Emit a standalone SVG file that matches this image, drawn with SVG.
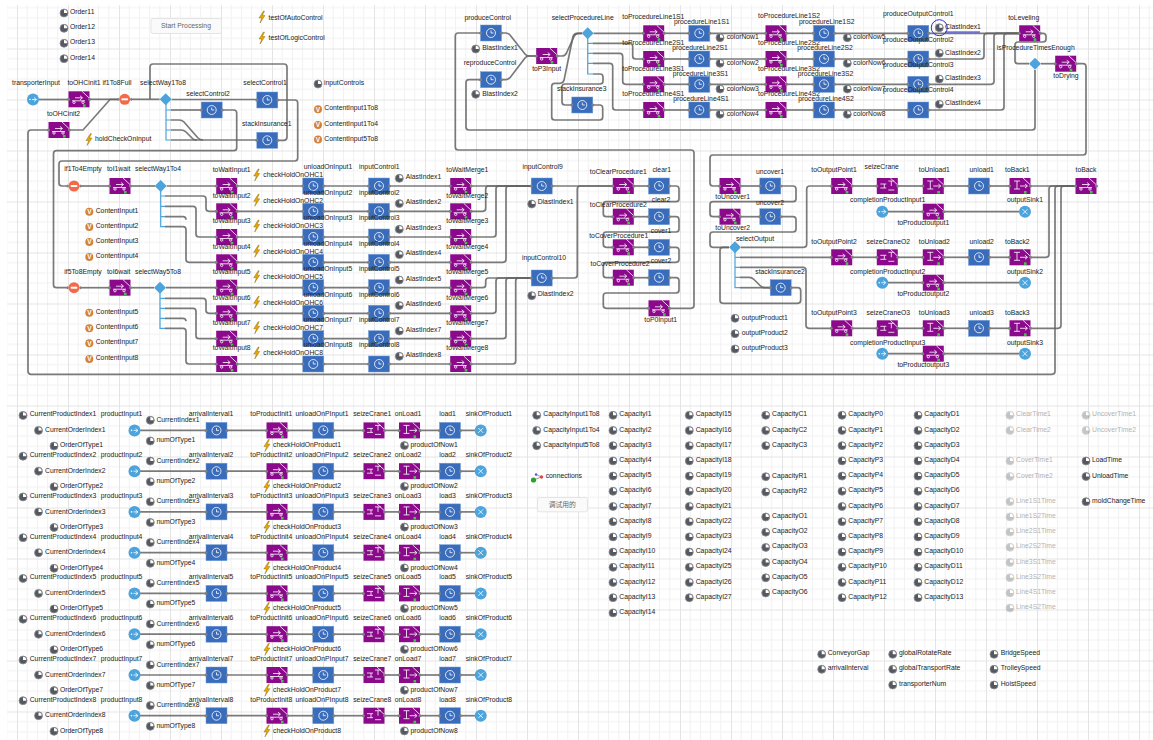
<svg xmlns="http://www.w3.org/2000/svg" width="1153" height="740" viewBox="0 0 1153 740">
<style>
text{font-family:"Liberation Sans","Noto Sans CJK SC",sans-serif;font-size:6.8px;fill:#222}
.t{text-anchor:middle}
.c path{fill:none;stroke:#636363;stroke-opacity:.85;stroke-width:1.7}
.c path.pb{stroke:#4da3dc;stroke-opacity:1;stroke-width:1.2}
.ic{fill:none;stroke:#fff;stroke-width:.8}
.g{opacity:.35}
.b{fill:#fafafa;stroke:#e4e4e4;stroke-width:1}
.bt{text-anchor:middle;fill:#666}
</style>
<defs>
<pattern id="grid" patternUnits="userSpaceOnUse" x="17" y="48.5" width="51" height="51">
<path d="M10.2 0V51M20.4 0V51M30.6 0V51M40.8 0V51M0 10.2H51M0 20.4H51M0 30.6H51M0 40.8H51" stroke="#f1f1f1" fill="none"/>
<path d="M.5 0V51M0 .5H51" stroke="#e4e4e4" fill="none"/>
</pattern>
<g id="ports"><circle cx="-10.5" r="1.5" fill="#808080"/><circle cx="10.5" r="1.5" fill="#808080"/></g>
<g id="P"><rect x="-10.5" y="-8" width="21" height="16" fill="#8b0a8c"/><path class="ic" d="M-7 1.5H6M-4 -1.5H3M1 -3.5L3.5 -1.5L1 .5M3 -8L10.5 -1"/><circle class="ic" cx="-5" cy="3" r="1.2"/><circle class="ic" cx="4" cy="3" r="1.2"/><rect x="4" y="5" width="2.6" height="2.6" fill="#49c24a"/><use href="#ports"/></g>
<g id="R"><rect x="-10.5" y="-8" width="21" height="16" fill="#8b0a8c"/><path class="ic" d="M-6 -5H0M-3 -5V3M-6 3H0M0 0H7M5 -2L7.5 0L5 2M3 -8L10.5 -1"/><rect x="4" y="5" width="2.6" height="2.6" fill="#49c24a"/><use href="#ports"/></g>
<g id="S"><rect x="-10.5" y="-8" width="21" height="16" fill="#8b0a8c"/><path class="ic" d="M-7 -2H-3V2H-7M-1 -2H-3M-1 2H-3M1 -5H7M4 -5V0M1 4H7M3 -8L10.5 -1"/><use href="#ports"/></g>
<g id="D"><rect x="-10.5" y="-8" width="21" height="16" fill="#3a6cbc" stroke="#6f9cd8" stroke-width=".5"/><circle class="ic" r="4.5" stroke-width="1"/><path class="ic" d="M0 -2.5V0H2.5"/><use href="#ports"/></g>
<g id="I"><circle r="6" fill="#4da3dc"/><path class="ic" d="M-1 0H3M1 -2L3.5 0L1 2"/><circle cx="-3" r=".8" fill="#fff"/></g>
<g id="O"><circle r="6" fill="#4da3dc"/><path class="ic" d="M-2.5 -2.5L2.5 2.5M2.5 -2.5L-2.5 2.5"/></g>
<g id="H"><circle r="5.5" fill="#f4694a"/><rect x="-3.2" y="-1" width="6.4" height="2" fill="#fff"/><use href="#ports" transform="scale(.62 1)"/></g>
<g id="W"><path d="M0 -6L6 0L0 6L-6 0Z" fill="#4da3dc"/></g>
<g id="A"><circle r="4" fill="#55595f" stroke="#8a8e94" stroke-width=".8"/><path d="M0 0V-3.2A3.2 3.2 0 0 1 3.2 0Z" fill="#fff"/></g>
<g id="V"><circle r="4" fill="#d4823a"/><text class="t" y="2.4" style="fill:#fff;font-size:6.5px;font-weight:bold">V</text></g>
<g id="E"><path d="M1.5 -6L-3 1H-.3L-2 6L3 -1.5H.4L2.5 -6Z" fill="#eba800" stroke="#7a5a00" stroke-width=".4"/></g>
<g id="m" class="c"><path d="M237.2 0H303"/><path d="M324 0H368.5"/><path d="M389.5 0H450"/></g>
<g id="pr" class="c"><path d="M664.2 0H688.8"/><path d="M709.8 0H765.5"/><path d="M786.5 0H813.5"/><path d="M834.5 0H907.8"/></g>
<g id="or" class="c"><path d="M852.2 0H876.8"/><path d="M897.8 0H922.8"/><path d="M943.8 0H968.5"/><path d="M989.5 0H1009.5"/></g>
<g id="cr" class="c"><path d="M888 0H922.8"/><path d="M943.8 0H1019"/></g>
<g id="rc" class="c"><path d="M140 0H206"/><path d="M227 0H267"/><path d="M287 0H313"/><path d="M334 0H364"/><path d="M384 0H399"/><path d="M420 0H440"/><path d="M460 0H475"/></g>
</defs>
<rect width="1153" height="740" fill="#fff"/>
<rect x="7" y="5" width="1146" height="735" fill="url(#grid)"/>
<g id="connectors" class="c">
<path d="M39 99.5H68.5"/>
<path d="M89.5 99.3H118"/>
<path d="M69.5 130H83L110 99.5H118"/>
<path d="M49 130H31Q28 130 28 133V371Q28 374.3 31 374.3H1052Q1055 374.3 1055 371.3V189Q1055 186 1058 186H1075.5"/>
<path d="M130.5 99.3H159.6"/>
<path d="M150 99V67Q150 64 153 64H284Q287 64 287 67V137Q287 140.3 284 140.3H277.5"/>
<path d="M171.7 99.5H256.8"/>
<path d="M171 110H201"/>
<path d="M171 120H179Q182 120 184 122L198 138Q200 140 203 140"/>
<path d="M171 130H181Q184 130 186 132L193 139Q194 140 197 140"/>
<path d="M171 140H257"/>
<path d="M278 100H295Q297.7 100 297.7 103V158Q297.7 161 294.7 161H62Q59 161 59 164V183Q59 186 62 186H68.5"/>
<path d="M222 110H233.7Q236.7 110 236.7 113V147.7Q236.7 150.7 233.7 150.7H56.5Q53.5 150.7 53.5 153.7V284.7Q53.5 287.7 56.5 287.7H68.5"/>
<path d="M79.5 186H109.5"/><path d="M130.5 186H155"/><path d="M166.7 186H216"/>
<path d="M79.5 287.7H109.5"/><path d="M130.5 287.7H154"/><path d="M166 287.7H216"/>
<path d="M165 196H203Q206 196 206 199V208.3Q206 211.3 209 211.3H216.2"/>
<path d="M165 206.3H193Q196 206.3 196 209.3V234Q196 237 199 237H216.2"/>
<path d="M165 216.7H183Q186 216.7 186 219.7"/>
<path d="M165 226.7H183Q186 226.7 186 229.7V259.3Q186 262.3 189 262.3H216.2"/>
<path d="M165 298.3H203Q206 298.3 206 301.3V310.3Q206 313.3 209 313.3H216.2"/>
<path d="M165 308.3H193Q196 308.3 196 311.3V335.7Q196 338.7 199 338.7H216.2"/>
<path d="M165 318.3H183Q186 318.3 186 321.3"/>
<path d="M165 328.3H183Q186 328.3 186 331.3V361Q186 364 189 364H216.2"/>
<use href="#m" y="186"/><use href="#m" y="211.3"/><use href="#m" y="237"/><use href="#m" y="262.3"/><use href="#m" y="287.7"/><use href="#m" y="313.3"/><use href="#m" y="338.7"/><use href="#m" y="364"/>
<path d="M471 186H531"/>
<path d="M471 211.3H482.7Q485.7 211.3 485.7 208.3V189Q485.7 186 488.7 186H531"/>
<path d="M471 237H493Q496 237 496 234V189Q496 186 499 186H531"/>
<path d="M471 262.3H503Q506 262.3 506 259.3V189Q506 186 509 186H531"/>
<path d="M471 287.7H482.7Q485.7 287.7 485.7 284.7V281Q485.7 278 488.7 278H531"/>
<path d="M471 313.3H493Q496 313.3 496 310.3V281Q496 278 499 278H531"/>
<path d="M471 338.7H503Q506 338.7 506 335.7V281Q506 278 509 278H531"/>
<path d="M471 364H512.7Q515.7 364 515.7 361V281Q515.7 278 518.7 278H531"/>
<path d="M552.2 186H613"/>
<path d="M552.2 278H574.3Q577.3 278 577.3 275V189Q577.3 186 580.3 186H613"/>
<path d="M634 186H648.5"/><path d="M634 216.7H648.5"/><path d="M634 247.3H648.5"/><path d="M634 277.7H648.5"/>
<path d="M669.5 186H676Q679 186 679 189V198.7Q679 201.7 676 201.7H606.3Q603.3 201.7 603.3 204.7V213.7Q603.3 216.7 606.3 216.7H613"/>
<path d="M669.5 216.7H676Q679 216.7 679 219.7V229Q679 232 676 232H606.3Q603.3 232 603.3 235V244.3Q603.3 247.3 606.3 247.3H613"/>
<path d="M669.5 247.3H676Q679 247.3 679 250.3V259.3Q679 262.3 676 262.3H606.3Q603.3 262.3 603.3 265.3V274.7Q603.3 277.7 606.3 277.7H613"/>
<path d="M669.5 277.7H676Q679 277.7 679 280.7V290Q679 293 676 293H606.3Q603.3 293 603.3 296V305.3Q603.3 308.3 606.3 308.3H648.5"/>
<path d="M669.5 308.3H691Q694 308.3 694 305.3V153Q694 150 691 150H458.3Q455.3 150 455.3 147V36Q455.3 33 458.3 33H480.5"/>
<path d="M501.5 33H506Q508 33 510 35L525 54Q526.5 56 529 56H536"/>
<path d="M501.5 79.7H506Q508 79.7 510 77.7L525 58Q526.5 56 529 56H536"/>
<path d="M557 56H562Q565 56 566.5 53L574 36.5Q575.5 33.3 578.5 33.3H582"/>
<path d="M593 105H599.7Q602.7 105 602.7 108V117Q602.7 120 599.7 120H554.7Q551.7 120 551.7 117V86.3Q551.7 83.3 554.7 83.3H560Q563 83.3 564 80.3L573 36.5Q574 33.3 577 33.3H582"/>
<path d="M593 74H600Q603 74 603 77V81Q603 84 600 84H565Q562 84 562 87V102Q562 105 565 105H572"/>
<path d="M593.5 33.3H643.2"/>
<path d="M593 43.3H629.7Q632.7 43.3 632.7 46.3V56Q632.7 59 635.7 59H643.2"/>
<path d="M593 53.3H619.7Q622.7 53.3 622.7 56.3V81.3Q622.7 84.3 625.7 84.3H643.2"/>
<path d="M593 63.3H609.7Q612.7 63.3 612.7 66.3V107Q612.7 110 615.7 110H643.2"/>
<use href="#pr" y="33.3"/><use href="#pr" y="59"/><use href="#pr" y="84.3"/><use href="#pr" y="110"/>
<path d="M928.8 33.3H1019.2"/>
<path d="M928.8 59H981Q984 59 984 56V36.3Q984 33.3 987 33.3H1019.2"/>
<path d="M928.8 84.3H991Q994 84.3 994 81.3V36.3Q994 33.3 997 33.3H1019.2"/>
<path d="M928.8 110H1001Q1004 110 1004 107V36.3Q1004 33.3 1007 33.3H1019.2"/>
<path d="M1040.2 33.3H1043Q1046 33.3 1046 36.3V39Q1046 42 1043 42H1018Q1015 42 1015 45V60.7Q1015 63.7 1018 63.7H1029"/>
<path d="M1041 63.7H1055.2"/>
<path d="M1076.2 63.7H1083Q1086 63.7 1086 66.7V152Q1086 155 1083 155H713Q710 155 710 158V183Q710 186 713 186H719.5"/>
<path d="M1035 70V127Q1035 130 1032 130H469Q466 130 466 127V82.7Q466 79.7 469 79.7H480.5"/>
<path d="M740.5 186H759.8"/>
<path d="M780.8 186H793Q796 186 796 189V198.7Q796 201.7 793 201.7H713Q710 201.7 710 204.7V213.7Q710 216.7 713 216.7H719.5"/>
<path d="M740.5 216.7H759.8"/>
<path d="M780.8 216.7H793Q796 216.7 796 219.7V229Q796 232 793 232H713Q710 232 710 235V244.3Q710 247.3 713 247.3H729"/>
<path d="M729 247.3H723Q720 247.3 720 250.3V300.3Q720 303.3 723 303.3H797.7Q800.7 303.3 800.7 300.3V290.7Q800.7 287.7 797.7 287.7H791.2"/>
<path d="M741 247.3H803.7Q806.7 247.3 806.7 244.3V189Q806.7 186 809.7 186H831.2"/>
<path d="M740 257.3H831.2"/>
<path d="M740 267.3H803Q806 267.3 806 270.3V325.3Q806 328.3 809 328.3H831.2"/>
<path d="M740 277.3H749Q752 277.3 754 279.5L760 285.5Q762 287.7 765 287.7H770"/>
<path d="M740 287.7H770"/>
<use href="#or" y="186"/><use href="#or" y="257.3"/><use href="#or" y="328.3"/>
<path d="M1030.5 186H1075.5"/>
<path d="M1030.5 257.3H1046Q1049 257.3 1049 254.3V189Q1049 186 1052 186H1075.5"/>
<path d="M1030.5 328.3H1058Q1061 328.3 1061 325.3V189Q1061 186 1064 186H1075.5"/>
<use href="#cr" y="211.7"/><use href="#cr" y="282.7"/><use href="#cr" y="353.7"/>
<use href="#rc" y="430.4"/><use href="#rc" y="471.2"/><use href="#rc" y="511.9"/><use href="#rc" y="552.7"/><use href="#rc" y="593.4"/><use href="#rc" y="634.2"/><use href="#rc" y="675"/><use href="#rc" y="715.7"/>
<path class="pb" d="M166 104V140H171M166 110H171M166 120H171M166 130H171"/>
<path class="pb" d="M160.7 191V226.7H165M160.7 196H165M160.7 206.3H165M160.7 216.7H165"/>
<path class="pb" d="M160 293V328.3H165M160 298.3H165M160 308.3H165M160 318.3H165"/>
<path class="pb" d="M587.7 38V74H593M587.7 43.3H593M587.7 53.3H593M587.7 63.3H593"/>
<path class="pb" d="M735 252V287.7H740M735 257.3H740M735 267.3H740M735 277.3H740"/>
</g>
<g id="Order11"><use href="#A" x="64" y="13"/><text x="70" y="14">Order11</text></g>
<g id="Order12"><use href="#A" x="64" y="28.3"/><text x="70" y="29.3">Order12</text></g>
<g id="Order13"><use href="#A" x="64" y="43.3"/><text x="70" y="44.3">Order13</text></g>
<g id="Order14"><use href="#A" x="64" y="58.7"/><text x="70" y="59.7">Order14</text></g>
<g id="StartProcessing"><rect class="b" x="151" y="18.5" width="70.5" height="15" rx="2"/><text class="bt" x="186" y="28.3">Start Processing</text></g>
<g id="testOfAutoControl"><use href="#E" x="262" y="17"/><text x="268.5" y="19.5">testOfAutoControl</text></g>
<g id="testOfLogicControl"><use href="#E" x="262" y="38"/><text x="268.5" y="40">testOfLogicControl</text></g>
<g id="transporterInput"><use href="#I" x="33" y="99.5"/><text class="t" x="36" y="85.3">transporterInput</text></g>
<g id="toOHCinit1"><use href="#P" x="79" y="99.3"/><text class="t" x="84" y="85.3">toOHCinit1</text></g>
<g id="toOHCinit2"><use href="#P" x="59" y="130"/><text class="t" x="63.5" y="116.3">toOHCinit2</text></g>
<g id="if1To8Full"><use href="#H" x="124.7" y="99.3"/><text class="t" x="117" y="85.3">if1To8Full</text></g>
<g id="selectWay1To8"><use href="#W" x="165.7" y="99.3"/><text class="t" x="163" y="85.3">selectWay1To8</text></g>
<g id="selectControl2"><use href="#D" x="211.7" y="110"/><text class="t" x="208" y="96.3">selectControl2</text></g>
<g id="selectControl1"><use href="#D" x="267.3" y="100"/><text class="t" x="265" y="85.3">selectControl1</text></g>
<g id="stackInsurance1"><use href="#D" x="267.3" y="140.3"/><text class="t" x="266.7" y="126.3">stackInsurance1</text></g>
<g id="holdCheckOnInput"><use href="#E" x="89" y="139.5"/><text x="95" y="141.3">holdCheckOnInput</text></g>
<g id="inputControls"><use href="#A" x="318" y="84"/><text x="324" y="85.3">inputControls</text></g>
<g id="ContentInput1To8"><use href="#V" x="318" y="109.3"/><text x="324.3" y="110.3">ContentInput1To8</text></g>
<g id="ContentInput1To4"><use href="#V" x="318" y="125"/><text x="324.3" y="126">ContentInput1To4</text></g>
<g id="ContentInput5To8"><use href="#V" x="318" y="139.5"/><text x="324.3" y="140.5">ContentInput5To8</text></g>
<g id="if1To4Empty"><use href="#H" x="74" y="186"/><text class="t" x="83" y="171.3">if1To4Empty</text></g>
<g id="toI1wait"><use href="#P" x="120" y="186"/><text class="t" x="118.7" y="171.3">toI1wait</text></g>
<g id="selectWay1To4"><use href="#W" x="160.7" y="186"/><text class="t" x="158" y="171.3">selectWay1To4</text></g>
<g id="if5To8Empty"><use href="#H" x="74" y="287.7"/><text class="t" x="83" y="273.6">if5To8Empty</text></g>
<g id="toI6wait"><use href="#P" x="120" y="287.7"/><text class="t" x="118.7" y="273.6">toI6wait</text></g>
<g id="selectWay5To8"><use href="#W" x="160" y="287.7"/><text class="t" x="158" y="273.6">selectWay5To8</text></g>
<g id="ContentInput1"><use href="#V" x="89.3" y="211.7"/><text x="95.7" y="212.7">ContentInput1</text></g>
<g id="ContentInput2"><use href="#V" x="89.3" y="227"/><text x="95.7" y="228">ContentInput2</text></g>
<g id="ContentInput3"><use href="#V" x="89.3" y="242"/><text x="95.7" y="243">ContentInput3</text></g>
<g id="ContentInput4"><use href="#V" x="89.3" y="257"/><text x="95.7" y="258">ContentInput4</text></g>
<g id="ContentInput5"><use href="#V" x="89.3" y="312.7"/><text x="95.7" y="313.7">ContentInput5</text></g>
<g id="ContentInput6"><use href="#V" x="89.3" y="328.3"/><text x="95.7" y="329.3">ContentInput6</text></g>
<g id="ContentInput7"><use href="#V" x="89.3" y="343.3"/><text x="95.7" y="344.3">ContentInput7</text></g>
<g id="ContentInput8"><use href="#V" x="89.3" y="359"/><text x="95.7" y="360">ContentInput8</text></g>
<g transform="translate(0 186)"><g id="toWaitInput1"><use href="#P" x="226.7"/><text class="t" x="231.7" y="-13.7">toWaitInput1</text></g><g id="checkHoldOnOHC1"><use href="#E" x="256.7" y="-11"/><text x="263.3" y="-8.7">checkHoldOnOHC1</text></g><g id="unloadOnInput1"><use href="#D" x="313.3"/><text class="t" x="328" y="-16.7">unloadOnInput1</text></g><g id="inputControl1"><use href="#D" x="379"/><text class="t" x="379.3" y="-16.7">inputControl1</text></g><g id="AlastIndex1"><use href="#A" x="399.3" y="-7.7"/><text x="405.7" y="-7">AlastIndex1</text></g><g id="toWaitMerge1"><use href="#P" x="460.7"/><text class="t" x="467.3" y="-13.7">toWaitMerge1</text></g></g>
<g transform="translate(0 211.3)"><g id="toWaitInput2"><use href="#P" x="226.7"/><text class="t" x="231.7" y="-13.7">toWaitInput2</text></g><g id="checkHoldOnOHC2"><use href="#E" x="256.7" y="-11"/><text x="263.3" y="-8.7">checkHoldOnOHC2</text></g><g id="unloadOnInput2"><use href="#D" x="313.3"/><text class="t" x="328" y="-16.7">unloadOnInput2</text></g><g id="inputControl2"><use href="#D" x="379"/><text class="t" x="379.3" y="-16.7">inputControl2</text></g><g id="AlastIndex2"><use href="#A" x="399.3" y="-7.7"/><text x="405.7" y="-7">AlastIndex2</text></g><g id="toWaitMerge2"><use href="#P" x="460.7"/><text class="t" x="467.3" y="-13.7">toWaitMerge2</text></g></g>
<g transform="translate(0 237)"><g id="toWaitInput3"><use href="#P" x="226.7"/><text class="t" x="231.7" y="-13.7">toWaitInput3</text></g><g id="checkHoldOnOHC3"><use href="#E" x="256.7" y="-11"/><text x="263.3" y="-8.7">checkHoldOnOHC3</text></g><g id="unloadOnInput3"><use href="#D" x="313.3"/><text class="t" x="328" y="-16.7">unloadOnInput3</text></g><g id="inputControl3"><use href="#D" x="379"/><text class="t" x="379.3" y="-16.7">inputControl3</text></g><g id="AlastIndex3"><use href="#A" x="399.3" y="-7.7"/><text x="405.7" y="-7">AlastIndex3</text></g><g id="toWaitMerge3"><use href="#P" x="460.7"/><text class="t" x="467.3" y="-13.7">toWaitMerge3</text></g></g>
<g transform="translate(0 262.3)"><g id="toWaitInput4"><use href="#P" x="226.7"/><text class="t" x="231.7" y="-13.7">toWaitInput4</text></g><g id="checkHoldOnOHC4"><use href="#E" x="256.7" y="-11"/><text x="263.3" y="-8.7">checkHoldOnOHC4</text></g><g id="unloadOnInput4"><use href="#D" x="313.3"/><text class="t" x="328" y="-16.7">unloadOnInput4</text></g><g id="inputControl4"><use href="#D" x="379"/><text class="t" x="379.3" y="-16.7">inputControl4</text></g><g id="AlastIndex4"><use href="#A" x="399.3" y="-7.7"/><text x="405.7" y="-7">AlastIndex4</text></g><g id="toWaitMerge4"><use href="#P" x="460.7"/><text class="t" x="467.3" y="-13.7">toWaitMerge4</text></g></g>
<g transform="translate(0 287.7)"><g id="toWaitInput5"><use href="#P" x="226.7"/><text class="t" x="231.7" y="-13.7">toWaitInput5</text></g><g id="checkHoldOnOHC5"><use href="#E" x="256.7" y="-11"/><text x="263.3" y="-8.7">checkHoldOnOHC5</text></g><g id="unloadOnInput5"><use href="#D" x="313.3"/><text class="t" x="328" y="-16.7">unloadOnInput5</text></g><g id="inputControl5"><use href="#D" x="379"/><text class="t" x="379.3" y="-16.7">inputControl5</text></g><g id="AlastIndex5"><use href="#A" x="399.3" y="-7.7"/><text x="405.7" y="-7">AlastIndex5</text></g><g id="toWaitMerge5"><use href="#P" x="460.7"/><text class="t" x="467.3" y="-13.7">toWaitMerge5</text></g></g>
<g transform="translate(0 313.3)"><g id="toWaitInput6"><use href="#P" x="226.7"/><text class="t" x="231.7" y="-13.7">toWaitInput6</text></g><g id="checkHoldOnOHC6"><use href="#E" x="256.7" y="-11"/><text x="263.3" y="-8.7">checkHoldOnOHC6</text></g><g id="unloadOnInput6"><use href="#D" x="313.3"/><text class="t" x="328" y="-16.7">unloadOnInput6</text></g><g id="inputControl6"><use href="#D" x="379"/><text class="t" x="379.3" y="-16.7">inputControl6</text></g><g id="AlastIndex6"><use href="#A" x="399.3" y="-7.7"/><text x="405.7" y="-7">AlastIndex6</text></g><g id="toWaitMerge6"><use href="#P" x="460.7"/><text class="t" x="467.3" y="-13.7">toWaitMerge6</text></g></g>
<g transform="translate(0 338.7)"><g id="toWaitInput7"><use href="#P" x="226.7"/><text class="t" x="231.7" y="-13.7">toWaitInput7</text></g><g id="checkHoldOnOHC7"><use href="#E" x="256.7" y="-11"/><text x="263.3" y="-8.7">checkHoldOnOHC7</text></g><g id="unloadOnInput7"><use href="#D" x="313.3"/><text class="t" x="328" y="-16.7">unloadOnInput7</text></g><g id="inputControl7"><use href="#D" x="379"/><text class="t" x="379.3" y="-16.7">inputControl7</text></g><g id="AlastIndex7"><use href="#A" x="399.3" y="-7.7"/><text x="405.7" y="-7">AlastIndex7</text></g><g id="toWaitMerge7"><use href="#P" x="460.7"/><text class="t" x="467.3" y="-13.7">toWaitMerge7</text></g></g>
<g transform="translate(0 364)"><g id="toWaitInput8"><use href="#P" x="226.7"/><text class="t" x="231.7" y="-13.7">toWaitInput8</text></g><g id="checkHoldOnOHC8"><use href="#E" x="256.7" y="-11"/><text x="263.3" y="-8.7">checkHoldOnOHC8</text></g><g id="unloadOnInput8"><use href="#D" x="313.3"/><text class="t" x="328" y="-16.7">unloadOnInput8</text></g><g id="inputControl8"><use href="#D" x="379"/><text class="t" x="379.3" y="-16.7">inputControl8</text></g><g id="AlastIndex8"><use href="#A" x="399.3" y="-7.7"/><text x="405.7" y="-7">AlastIndex8</text></g><g id="toWaitMerge8"><use href="#P" x="460.7"/><text class="t" x="467.3" y="-13.7">toWaitMerge8</text></g></g>
<g id="inputControl9"><use href="#D" x="541.7" y="186"/><text class="t" x="542.7" y="169">inputControl9</text></g>
<g id="DlastIndex1"><use href="#A" x="531.7" y="204"/><text x="537.7" y="204.3">DlastIndex1</text></g>
<g id="inputControl10"><use href="#D" x="541.7" y="278"/><text class="t" x="544" y="260.3">inputControl10</text></g>
<g id="DlastIndex2"><use href="#A" x="531.7" y="295.7"/><text x="537.7" y="296.3">DlastIndex2</text></g>
<g id="toClearProcedure1"><use href="#P" x="623.3" y="186"/><text class="t" x="618.3" y="174">toClearProcedure1</text></g>
<g id="clear1"><use href="#D" x="659" y="186"/><text class="t" x="661.7" y="172.3">clear1</text></g>
<g id="toClearProcedure2"><use href="#P" x="623.3" y="216.7"/><text class="t" x="618.3" y="207.3">toClearProcedure2</text></g>
<g id="clear2"><use href="#D" x="659" y="216.7"/><text class="t" x="661" y="202.3">clear2</text></g>
<g id="toCoverProcedure1"><use href="#P" x="623.3" y="247.3"/><text class="t" x="618.7" y="238">toCoverProcedure1</text></g>
<g id="cover1"><use href="#D" x="659" y="247.3"/><text class="t" x="661" y="233.3">cover1</text></g>
<g id="toCoverProcedure2"><use href="#P" x="623.3" y="277.7"/><text class="t" x="620" y="265.6">toCoverProcedure2</text></g>
<g id="cover2"><use href="#D" x="659" y="277.7"/><text class="t" x="661" y="263.3">cover2</text></g>
<g id="toP0Input1"><use href="#P" x="659" y="308.3"/><text class="t" x="660.7" y="321.6">toP0Input1</text></g>
<g id="produceControl"><use href="#D" x="491" y="33"/><text class="t" x="487.7" y="19.6">produceControl</text></g>
<g id="BlastIndex1"><use href="#A" x="475.7" y="49"/><text x="482.3" y="50">BlastIndex1</text></g>
<g id="reproduceControl"><use href="#D" x="491" y="79.7"/><text class="t" x="490" y="65">reproduceControl</text></g>
<g id="BlastIndex2"><use href="#A" x="475.7" y="94.3"/><text x="482.3" y="96">BlastIndex2</text></g>
<g id="toP3Input"><use href="#P" x="546.7" y="56"/><text class="t" x="546.7" y="70.6">toP3Input</text></g>
<g id="selectProcedureLine"><use href="#W" x="587.7" y="33.3"/><text class="t" x="582.7" y="19.6">selectProcedureLine</text></g>
<g id="stackInsurance3"><use href="#D" x="582.3" y="105"/><text class="t" x="581.7" y="90.6">stackInsurance3</text></g>
<g id="toProcedureLine1S1"><use href="#P" x="653.7" y="33.3"/><text class="t" x="653.3" y="18.5">toProcedureLine1S1</text></g>
<g id="toProcedureLine2S1"><use href="#P" x="653.7" y="59"/><text class="t" x="653.3" y="44.6">toProcedureLine2S1</text></g>
<g id="toProcedureLine3S1"><use href="#P" x="653.7" y="84.3"/><text class="t" x="653.3" y="70.6">toProcedureLine3S1</text></g>
<g id="toProcedureLine4S1"><use href="#P" x="653.7" y="110"/><text class="t" x="653.3" y="95.6">toProcedureLine4S1</text></g>
<g id="procedureLine1S1"><use href="#D" x="699.3" y="33.3"/><text class="t" x="701.7" y="23.5">procedureLine1S1</text></g>
<g id="procedureLine2S1"><use href="#D" x="699.3" y="59"/><text class="t" x="700" y="50">procedureLine2S1</text></g>
<g id="procedureLine3S1"><use href="#D" x="699.3" y="84.3"/><text class="t" x="700.5" y="75.8">procedureLine3S1</text></g>
<g id="procedureLine4S1"><use href="#D" x="699.3" y="110"/><text class="t" x="701" y="101">procedureLine4S1</text></g>
<g id="colorNow1"><use href="#A" x="720" y="37.7"/><text x="726.7" y="39.3">colorNow1</text></g>
<g id="colorNow2"><use href="#A" x="720" y="63.3"/><text x="726.7" y="64.9">colorNow2</text></g>
<g id="colorNow3"><use href="#A" x="720" y="89"/><text x="726.7" y="90.6">colorNow3</text></g>
<g id="colorNow4"><use href="#A" x="720" y="114.3"/><text x="726.7" y="115.9">colorNow4</text></g>
<g id="toProcedureLine1S2"><use href="#P" x="776" y="33.3"/><text class="t" x="789" y="18.3">toProcedureLine1S2</text></g>
<g id="toProcedureLine2S2"><use href="#P" x="776" y="59"/><text class="t" x="789" y="45">toProcedureLine2S2</text></g>
<g id="toProcedureLine3S2"><use href="#P" x="776" y="84.3"/><text class="t" x="789" y="70.5">toProcedureLine3S2</text></g>
<g id="toProcedureLine4S2"><use href="#P" x="776" y="110"/><text class="t" x="789" y="95.6">toProcedureLine4S2</text></g>
<g id="procedureLine1S2"><use href="#D" x="824" y="33.3"/><text class="t" x="826.7" y="23.7">procedureLine1S2</text></g>
<g id="procedureLine2S2"><use href="#D" x="824" y="59"/><text class="t" x="825" y="50.2">procedureLine2S2</text></g>
<g id="procedureLine3S2"><use href="#D" x="824" y="84.3"/><text class="t" x="825.5" y="76">procedureLine3S2</text></g>
<g id="procedureLine4S2"><use href="#D" x="824" y="110"/><text class="t" x="826" y="101">procedureLine4S2</text></g>
<g id="colorNow5"><use href="#A" x="847.3" y="37.7"/><text x="853.3" y="39.3">colorNow5</text></g>
<g id="colorNow6"><use href="#A" x="847.3" y="63.3"/><text x="853.3" y="64.9">colorNow6</text></g>
<g id="colorNow7"><use href="#A" x="847.3" y="89"/><text x="853.3" y="90.6">colorNow7</text></g>
<g id="colorNow8"><use href="#A" x="847.3" y="114.3"/><text x="853.3" y="115.9">colorNow8</text></g>
<g id="produceOutputControl1"><use href="#D" x="918.3" y="33.3"/><text class="t" x="918.3" y="16">produceOutputControl1</text></g>
<g id="produceOutputControl2"><use href="#D" x="918.3" y="59"/><text class="t" x="918.3" y="41.6">produceOutputControl2</text></g>
<g id="produceOutputControl3"><use href="#D" x="918.3" y="84.3"/><text class="t" x="918.3" y="67.3">produceOutputControl3</text></g>
<g id="produceOutputControl4"><use href="#D" x="918.3" y="110"/><text class="t" x="918.3" y="92.3">produceOutputControl4</text></g>
<g id="ClastIndex1"><circle cx="939.3" cy="27.7" r="8" fill="none" stroke="#2b2be0" stroke-width="1"/><path d="M945 32H980" stroke="#2b2be0" fill="none"/><use href="#A" x="939.3" y="27.7"/><text x="945" y="29.3">ClastIndex1</text></g>
<g id="ClastIndex2"><use href="#A" x="939.3" y="53.3"/><text x="945" y="55">ClastIndex2</text></g>
<g id="ClastIndex3"><use href="#A" x="939.3" y="79"/><text x="945" y="80.3">ClastIndex3</text></g>
<g id="ClastIndex4"><use href="#A" x="939.3" y="104.3"/><text x="945" y="105.3">ClastIndex4</text></g>
<g id="toLeveling"><use href="#P" x="1029.7" y="33.3"/><text class="t" x="1023.7" y="19.6">toLeveling</text></g>
<g id="isProcedureTimesEnough"><use href="#W" x="1035" y="63.7"/><text class="t" x="1035.7" y="50">isProcedureTimesEnough</text></g>
<g id="toDrying"><use href="#P" x="1065.7" y="63.7"/><text class="t" x="1066" y="78">toDrying</text></g>
<g id="toUncover1"><use href="#P" x="730" y="186"/><text class="t" x="732.7" y="199.3">toUncover1</text></g>
<g id="uncover1"><use href="#D" x="770.3" y="186"/><text class="t" x="770" y="174">uncover1</text></g>
<g id="toUncover2"><use href="#P" x="730" y="216.7"/><text class="t" x="732.7" y="229.6">toUncover2</text></g>
<g id="uncover2"><use href="#D" x="770.3" y="216.7"/><text class="t" x="770" y="204.6">uncover2</text></g>
<g id="selectOutput"><use href="#W" x="735" y="247.3"/><text class="t" x="755" y="240.6">selectOutput</text></g>
<g id="stackInsurance2"><use href="#D" x="780.7" y="287.7"/><text class="t" x="780" y="274.3">stackInsurance2</text></g>
<g id="toOutputPoint1"><use href="#P" x="841.7" y="186"/><text class="t" x="834" y="172.3">toOutputPoint1</text></g>
<g id="toOutputPoint2"><use href="#P" x="841.7" y="257.3"/><text class="t" x="834" y="243.6">toOutputPoint2</text></g>
<g id="toOutputPoint3"><use href="#P" x="841.7" y="328.3"/><text class="t" x="834" y="314.6">toOutputPoint3</text></g>
<g id="seizeCrane"><use href="#S" x="887.3" y="186"/><text class="t" x="881.7" y="169">seizeCrane</text></g>
<g id="seizeCraneO2"><use href="#S" x="887.3" y="257.3"/><text class="t" x="888.3" y="244">seizeCraneO2</text></g>
<g id="seizeCraneO3"><use href="#S" x="887.3" y="328.3"/><text class="t" x="888.3" y="314.6">seizeCraneO3</text></g>
<g id="toUnload1"><use href="#R" x="933.3" y="186"/><text class="t" x="934.3" y="172.3">toUnload1</text></g>
<g id="toUnload2"><use href="#R" x="933.3" y="257.3"/><text class="t" x="934.3" y="243.6">toUnload2</text></g>
<g id="toUnload3"><use href="#R" x="933.3" y="328.3"/><text class="t" x="934.3" y="314.6">toUnload3</text></g>
<g id="unload1"><use href="#D" x="979" y="186"/><text class="t" x="981.7" y="172.3">unload1</text></g>
<g id="unload2"><use href="#D" x="979" y="257.3"/><text class="t" x="981.7" y="243.6">unload2</text></g>
<g id="unload3"><use href="#D" x="979" y="328.3"/><text class="t" x="981.7" y="314.6">unload3</text></g>
<g id="toBack1"><use href="#R" x="1020" y="186"/><text class="t" x="1017.3" y="172.3">toBack1</text></g>
<g id="toBack2"><use href="#R" x="1020" y="257.3"/><text class="t" x="1017.3" y="243.6">toBack2</text></g>
<g id="toBack3"><use href="#R" x="1020" y="328.3"/><text class="t" x="1017.3" y="314.6">toBack3</text></g>
<g id="toBack"><use href="#P" x="1086" y="186"/><text class="t" x="1086" y="172.3">toBack</text></g>
<g id="completionProductInput1"><use href="#I" x="882.3" y="211.7"/><text class="t" x="887.7" y="202.3">completionProductInput1</text></g>
<g id="completionProductInput2"><use href="#I" x="882.3" y="282.7"/><text class="t" x="887.7" y="274">completionProductInput2</text></g>
<g id="completionProductInput3"><use href="#I" x="882.3" y="353.7"/><text class="t" x="887.7" y="345">completionProductInput3</text></g>
<g id="toProductoutput1"><use href="#P" x="933.3" y="211.7"/><text class="t" x="923.3" y="225">toProductoutput1</text></g>
<g id="toProductoutput2"><use href="#P" x="933.3" y="282.7"/><text class="t" x="923.3" y="296">toProductoutput2</text></g>
<g id="toProductoutput3"><use href="#P" x="933.3" y="353.7"/><text class="t" x="923.3" y="367.3">toProductoutput3</text></g>
<g id="outputSink1"><use href="#O" x="1025" y="211.7"/><text class="t" x="1025" y="202.3">outputSink1</text></g>
<g id="outputSink2"><use href="#O" x="1025" y="282.7"/><text class="t" x="1025" y="274">outputSink2</text></g>
<g id="outputSink3"><use href="#O" x="1025" y="353.7"/><text class="t" x="1025" y="345">outputSink3</text></g>
<g id="outputProduct1"><use href="#A" x="735" y="318.3"/><text x="741.7" y="319.6">outputProduct1</text></g>
<g id="outputProduct2"><use href="#A" x="735" y="333.7"/><text x="741.7" y="334.7">outputProduct2</text></g>
<g id="outputProduct3"><use href="#A" x="735" y="349"/><text x="741.7" y="350">outputProduct3</text></g>
<g transform="translate(0 430.4)"><g id="CurrentProductIndex1"><use href="#A" x="23" y="-15"/><text x="29.7" y="-14">CurrentProductIndex1</text></g><g id="CurrentOrderIndex1"><use href="#A" x="38.5"/><text x="45" y="1.6">CurrentOrderIndex1</text></g><g id="OrderOfType1"><use href="#A" x="54" y="15.6"/><text x="60" y="16.9">OrderOfType1</text></g><g id="productInput1"><use href="#I" x="134.5"/><text class="t" x="121.6" y="-14">productInput1</text></g><g id="CurrentIndex1"><use href="#A" x="150.3" y="-10.1"/><text x="156.4" y="-8.5">CurrentIndex1</text></g><g id="numOfType1"><use href="#A" x="150.3" y="10.6"/><text x="156.4" y="11.9">numOfType1</text></g><g id="arrivalInterval1"><use href="#D" x="216.5"/><text class="t" x="211" y="-14">arrivalInterval1</text></g><g id="toProductInit1"><use href="#P" x="277"/><text class="t" x="271.3" y="-14">toProductInit1</text></g><g id="checkHoldOnProduct1"><use href="#E" x="266.9" y="15.2"/><text x="273" y="16.9">checkHoldOnProduct1</text></g><g id="unloadOnPInput1"><use href="#D" x="323.3"/><text class="t" x="322" y="-14">unloadOnPInput1</text></g><g id="seizeCrane1"><use href="#S" x="374"/><text class="t" x="372.3" y="-14">seizeCrane1</text></g><g id="onLoad1"><use href="#R" x="409.5"/><text class="t" x="408" y="-14">onLoad1</text></g><g id="productOfNow1"><use href="#A" x="404.4" y="15.2"/><text x="410.5" y="16.9">productOfNow1</text></g><g id="load1"><use href="#D" x="450"/><text class="t" x="447.6" y="-14">load1</text></g><g id="sinkOfProduct1"><use href="#O" x="480.7"/><text class="t" x="488.9" y="-14">sinkOfProduct1</text></g></g>
<g transform="translate(0 471.2)"><g id="CurrentProductIndex2"><use href="#A" x="23" y="-15"/><text x="29.7" y="-14">CurrentProductIndex2</text></g><g id="CurrentOrderIndex2"><use href="#A" x="38.5"/><text x="45" y="1.6">CurrentOrderIndex2</text></g><g id="OrderOfType2"><use href="#A" x="54" y="15.6"/><text x="60" y="16.9">OrderOfType2</text></g><g id="productInput2"><use href="#I" x="134.5"/><text class="t" x="121.6" y="-14">productInput2</text></g><g id="CurrentIndex2"><use href="#A" x="150.3" y="-10.1"/><text x="156.4" y="-8.5">CurrentIndex2</text></g><g id="numOfType2"><use href="#A" x="150.3" y="10.6"/><text x="156.4" y="11.9">numOfType2</text></g><g id="arrivalInterval2"><use href="#D" x="216.5"/><text class="t" x="211" y="-14">arrivalInterval2</text></g><g id="toProductInit2"><use href="#P" x="277"/><text class="t" x="271.3" y="-14">toProductInit2</text></g><g id="checkHoldOnProduct2"><use href="#E" x="266.9" y="15.2"/><text x="273" y="16.9">checkHoldOnProduct2</text></g><g id="unloadOnPInput2"><use href="#D" x="323.3"/><text class="t" x="322" y="-14">unloadOnPInput2</text></g><g id="seizeCrane2"><use href="#S" x="374"/><text class="t" x="372.3" y="-14">seizeCrane2</text></g><g id="onLoad2"><use href="#R" x="409.5"/><text class="t" x="408" y="-14">onLoad2</text></g><g id="productOfNow2"><use href="#A" x="404.4" y="15.2"/><text x="410.5" y="16.9">productOfNow2</text></g><g id="load2"><use href="#D" x="450"/><text class="t" x="447.6" y="-14">load2</text></g><g id="sinkOfProduct2"><use href="#O" x="480.7"/><text class="t" x="488.9" y="-14">sinkOfProduct2</text></g></g>
<g transform="translate(0 511.9)"><g id="CurrentProductIndex3"><use href="#A" x="23" y="-15"/><text x="29.7" y="-14">CurrentProductIndex3</text></g><g id="CurrentOrderIndex3"><use href="#A" x="38.5"/><text x="45" y="1.6">CurrentOrderIndex3</text></g><g id="OrderOfType3"><use href="#A" x="54" y="15.6"/><text x="60" y="16.9">OrderOfType3</text></g><g id="productInput3"><use href="#I" x="134.5"/><text class="t" x="121.6" y="-14">productInput3</text></g><g id="CurrentIndex3"><use href="#A" x="150.3" y="-10.1"/><text x="156.4" y="-8.5">CurrentIndex3</text></g><g id="numOfType3"><use href="#A" x="150.3" y="10.6"/><text x="156.4" y="11.9">numOfType3</text></g><g id="arrivalInterval3"><use href="#D" x="216.5"/><text class="t" x="211" y="-14">arrivalInterval3</text></g><g id="toProductInit3"><use href="#P" x="277"/><text class="t" x="271.3" y="-14">toProductInit3</text></g><g id="checkHoldOnProduct3"><use href="#E" x="266.9" y="15.2"/><text x="273" y="16.9">checkHoldOnProduct3</text></g><g id="unloadOnPInput3"><use href="#D" x="323.3"/><text class="t" x="322" y="-14">unloadOnPInput3</text></g><g id="seizeCrane3"><use href="#S" x="374"/><text class="t" x="372.3" y="-14">seizeCrane3</text></g><g id="onLoad3"><use href="#R" x="409.5"/><text class="t" x="408" y="-14">onLoad3</text></g><g id="productOfNow3"><use href="#A" x="404.4" y="15.2"/><text x="410.5" y="16.9">productOfNow3</text></g><g id="load3"><use href="#D" x="450"/><text class="t" x="447.6" y="-14">load3</text></g><g id="sinkOfProduct3"><use href="#O" x="480.7"/><text class="t" x="488.9" y="-14">sinkOfProduct3</text></g></g>
<g transform="translate(0 552.7)"><g id="CurrentProductIndex4"><use href="#A" x="23" y="-15"/><text x="29.7" y="-14">CurrentProductIndex4</text></g><g id="CurrentOrderIndex4"><use href="#A" x="38.5"/><text x="45" y="1.6">CurrentOrderIndex4</text></g><g id="OrderOfType4"><use href="#A" x="54" y="15.6"/><text x="60" y="16.9">OrderOfType4</text></g><g id="productInput4"><use href="#I" x="134.5"/><text class="t" x="121.6" y="-14">productInput4</text></g><g id="CurrentIndex4"><use href="#A" x="150.3" y="-10.1"/><text x="156.4" y="-8.5">CurrentIndex4</text></g><g id="numOfType4"><use href="#A" x="150.3" y="10.6"/><text x="156.4" y="11.9">numOfType4</text></g><g id="arrivalInterval4"><use href="#D" x="216.5"/><text class="t" x="211" y="-14">arrivalInterval4</text></g><g id="toProductInit4"><use href="#P" x="277"/><text class="t" x="271.3" y="-14">toProductInit4</text></g><g id="checkHoldOnProduct4"><use href="#E" x="266.9" y="15.2"/><text x="273" y="16.9">checkHoldOnProduct4</text></g><g id="unloadOnPInput4"><use href="#D" x="323.3"/><text class="t" x="322" y="-14">unloadOnPInput4</text></g><g id="seizeCrane4"><use href="#S" x="374"/><text class="t" x="372.3" y="-14">seizeCrane4</text></g><g id="onLoad4"><use href="#R" x="409.5"/><text class="t" x="408" y="-14">onLoad4</text></g><g id="productOfNow4"><use href="#A" x="404.4" y="15.2"/><text x="410.5" y="16.9">productOfNow4</text></g><g id="load4"><use href="#D" x="450"/><text class="t" x="447.6" y="-14">load4</text></g><g id="sinkOfProduct4"><use href="#O" x="480.7"/><text class="t" x="488.9" y="-14">sinkOfProduct4</text></g></g>
<g transform="translate(0 593.4)"><g id="CurrentProductIndex5"><use href="#A" x="23" y="-15"/><text x="29.7" y="-14">CurrentProductIndex5</text></g><g id="CurrentOrderIndex5"><use href="#A" x="38.5"/><text x="45" y="1.6">CurrentOrderIndex5</text></g><g id="OrderOfType5"><use href="#A" x="54" y="15.6"/><text x="60" y="16.9">OrderOfType5</text></g><g id="productInput5"><use href="#I" x="134.5"/><text class="t" x="121.6" y="-14">productInput5</text></g><g id="CurrentIndex5"><use href="#A" x="150.3" y="-10.1"/><text x="156.4" y="-8.5">CurrentIndex5</text></g><g id="numOfType5"><use href="#A" x="150.3" y="10.6"/><text x="156.4" y="11.9">numOfType5</text></g><g id="arrivalInterval5"><use href="#D" x="216.5"/><text class="t" x="211" y="-14">arrivalInterval5</text></g><g id="toProductInit5"><use href="#P" x="277"/><text class="t" x="271.3" y="-14">toProductInit5</text></g><g id="checkHoldOnProduct5"><use href="#E" x="266.9" y="15.2"/><text x="273" y="16.9">checkHoldOnProduct5</text></g><g id="unloadOnPInput5"><use href="#D" x="323.3"/><text class="t" x="322" y="-14">unloadOnPInput5</text></g><g id="seizeCrane5"><use href="#S" x="374"/><text class="t" x="372.3" y="-14">seizeCrane5</text></g><g id="onLoad5"><use href="#R" x="409.5"/><text class="t" x="408" y="-14">onLoad5</text></g><g id="productOfNow5"><use href="#A" x="404.4" y="15.2"/><text x="410.5" y="16.9">productOfNow5</text></g><g id="load5"><use href="#D" x="450"/><text class="t" x="447.6" y="-14">load5</text></g><g id="sinkOfProduct5"><use href="#O" x="480.7"/><text class="t" x="488.9" y="-14">sinkOfProduct5</text></g></g>
<g transform="translate(0 634.2)"><g id="CurrentProductIndex6"><use href="#A" x="23" y="-15"/><text x="29.7" y="-14">CurrentProductIndex6</text></g><g id="CurrentOrderIndex6"><use href="#A" x="38.5"/><text x="45" y="1.6">CurrentOrderIndex6</text></g><g id="OrderOfType6"><use href="#A" x="54" y="15.6"/><text x="60" y="16.9">OrderOfType6</text></g><g id="productInput6"><use href="#I" x="134.5"/><text class="t" x="121.6" y="-14">productInput6</text></g><g id="CurrentIndex6"><use href="#A" x="150.3" y="-10.1"/><text x="156.4" y="-8.5">CurrentIndex6</text></g><g id="numOfType6"><use href="#A" x="150.3" y="10.6"/><text x="156.4" y="11.9">numOfType6</text></g><g id="arrivalInterval6"><use href="#D" x="216.5"/><text class="t" x="211" y="-14">arrivalInterval6</text></g><g id="toProductInit6"><use href="#P" x="277"/><text class="t" x="271.3" y="-14">toProductInit6</text></g><g id="checkHoldOnProduct6"><use href="#E" x="266.9" y="15.2"/><text x="273" y="16.9">checkHoldOnProduct6</text></g><g id="unloadOnPInput6"><use href="#D" x="323.3"/><text class="t" x="322" y="-14">unloadOnPInput6</text></g><g id="seizeCrane6"><use href="#S" x="374"/><text class="t" x="372.3" y="-14">seizeCrane6</text></g><g id="onLoad6"><use href="#R" x="409.5"/><text class="t" x="408" y="-14">onLoad6</text></g><g id="productOfNow6"><use href="#A" x="404.4" y="15.2"/><text x="410.5" y="16.9">productOfNow6</text></g><g id="load6"><use href="#D" x="450"/><text class="t" x="447.6" y="-14">load6</text></g><g id="sinkOfProduct6"><use href="#O" x="480.7"/><text class="t" x="488.9" y="-14">sinkOfProduct6</text></g></g>
<g transform="translate(0 675)"><g id="CurrentProductIndex7"><use href="#A" x="23" y="-15"/><text x="29.7" y="-14">CurrentProductIndex7</text></g><g id="CurrentOrderIndex7"><use href="#A" x="38.5"/><text x="45" y="1.6">CurrentOrderIndex7</text></g><g id="OrderOfType7"><use href="#A" x="54" y="15.6"/><text x="60" y="16.9">OrderOfType7</text></g><g id="productInput7"><use href="#I" x="134.5"/><text class="t" x="121.6" y="-14">productInput7</text></g><g id="CurrentIndex7"><use href="#A" x="150.3" y="-10.1"/><text x="156.4" y="-8.5">CurrentIndex7</text></g><g id="numOfType7"><use href="#A" x="150.3" y="10.6"/><text x="156.4" y="11.9">numOfType7</text></g><g id="arrivalInterval7"><use href="#D" x="216.5"/><text class="t" x="211" y="-14">arrivalInterval7</text></g><g id="toProductInit7"><use href="#P" x="277"/><text class="t" x="271.3" y="-14">toProductInit7</text></g><g id="checkHoldOnProduct7"><use href="#E" x="266.9" y="15.2"/><text x="273" y="16.9">checkHoldOnProduct7</text></g><g id="unloadOnPInput7"><use href="#D" x="323.3"/><text class="t" x="322" y="-14">unloadOnPInput7</text></g><g id="seizeCrane7"><use href="#S" x="374"/><text class="t" x="372.3" y="-14">seizeCrane7</text></g><g id="onLoad7"><use href="#R" x="409.5"/><text class="t" x="408" y="-14">onLoad7</text></g><g id="productOfNow7"><use href="#A" x="404.4" y="15.2"/><text x="410.5" y="16.9">productOfNow7</text></g><g id="load7"><use href="#D" x="450"/><text class="t" x="447.6" y="-14">load7</text></g><g id="sinkOfProduct7"><use href="#O" x="480.7"/><text class="t" x="488.9" y="-14">sinkOfProduct7</text></g></g>
<g transform="translate(0 715.7)"><g id="CurrentProductIndex8"><use href="#A" x="23" y="-15"/><text x="29.7" y="-14">CurrentProductIndex8</text></g><g id="CurrentOrderIndex8"><use href="#A" x="38.5"/><text x="45" y="1.6">CurrentOrderIndex8</text></g><g id="OrderOfType8"><use href="#A" x="54" y="15.6"/><text x="60" y="16.9">OrderOfType8</text></g><g id="productInput8"><use href="#I" x="134.5"/><text class="t" x="121.6" y="-14">productInput8</text></g><g id="CurrentIndex8"><use href="#A" x="150.3" y="-10.1"/><text x="156.4" y="-8.5">CurrentIndex8</text></g><g id="numOfType8"><use href="#A" x="150.3" y="10.6"/><text x="156.4" y="11.9">numOfType8</text></g><g id="arrivalInterval8"><use href="#D" x="216.5"/><text class="t" x="211" y="-14">arrivalInterval8</text></g><g id="toProductInit8"><use href="#P" x="277"/><text class="t" x="271.3" y="-14">toProductInit8</text></g><g id="checkHoldOnProduct8"><use href="#E" x="266.9" y="15.2"/><text x="273" y="16.9">checkHoldOnProduct8</text></g><g id="unloadOnPInput8"><use href="#D" x="323.3"/><text class="t" x="322" y="-14">unloadOnPInput8</text></g><g id="seizeCrane8"><use href="#S" x="374"/><text class="t" x="372.3" y="-14">seizeCrane8</text></g><g id="onLoad8"><use href="#R" x="409.5"/><text class="t" x="408" y="-14">onLoad8</text></g><g id="productOfNow8"><use href="#A" x="404.4" y="15.2"/><text x="410.5" y="16.9">productOfNow8</text></g><g id="load8"><use href="#D" x="450"/><text class="t" x="447.6" y="-14">load8</text></g><g id="sinkOfProduct8"><use href="#O" x="480.7"/><text class="t" x="488.9" y="-14">sinkOfProduct8</text></g></g>
<g id="CapacityInput1To8"><use href="#A" x="536.7" y="415.3"/><text x="543.3" y="416.3">CapacityInput1To8</text></g>
<g id="CapacityInput1To4"><use href="#A" x="536.7" y="430.5"/><text x="543.3" y="431.5">CapacityInput1To4</text></g>
<g id="CapacityInput5To8"><use href="#A" x="536.7" y="445.7"/><text x="543.3" y="446.7">CapacityInput5To8</text></g>
<g id="connections"><path d="M533.5 480L541.5 477M536 474.5L541.5 477" stroke="#888" stroke-width=".8" fill="none"/><circle cx="533.5" cy="480" r="2.6" fill="#2e9e2e"/><circle cx="541.5" cy="477" r="1.7" fill="#d84a4a"/><circle cx="536" cy="474.5" r="1.2" fill="#4a5ad8"/><text x="545.7" y="477.8">connections</text></g>
<g id="debugButton"><rect class="b" x="537.5" y="497.5" width="50" height="14.3" rx="2"/><text class="bt" x="562.3" y="507">调试用的</text></g>
<g id="CapacityI1"><use href="#A" x="613" y="415.3"/><text x="619.3" y="416.3">CapacityI1</text></g>
<g id="CapacityI2"><use href="#A" x="613" y="430.5"/><text x="619.3" y="431.5">CapacityI2</text></g>
<g id="CapacityI3"><use href="#A" x="613" y="445.7"/><text x="619.3" y="446.7">CapacityI3</text></g>
<g id="CapacityI4"><use href="#A" x="613" y="460.9"/><text x="619.3" y="461.9">CapacityI4</text></g>
<g id="CapacityI5"><use href="#A" x="613" y="476.1"/><text x="619.3" y="477.1">CapacityI5</text></g>
<g id="CapacityI6"><use href="#A" x="613" y="491.3"/><text x="619.3" y="492.3">CapacityI6</text></g>
<g id="CapacityI7"><use href="#A" x="613" y="506.5"/><text x="619.3" y="507.5">CapacityI7</text></g>
<g id="CapacityI8"><use href="#A" x="613" y="521.7"/><text x="619.3" y="522.7">CapacityI8</text></g>
<g id="CapacityI9"><use href="#A" x="613" y="536.9"/><text x="619.3" y="537.9">CapacityI9</text></g>
<g id="CapacityI10"><use href="#A" x="613" y="552.1"/><text x="619.3" y="553.1">CapacityI10</text></g>
<g id="CapacityI11"><use href="#A" x="613" y="567.3"/><text x="619.3" y="568.3">CapacityI11</text></g>
<g id="CapacityI12"><use href="#A" x="613" y="582.5"/><text x="619.3" y="583.5">CapacityI12</text></g>
<g id="CapacityI13"><use href="#A" x="613" y="597.7"/><text x="619.3" y="598.7">CapacityI13</text></g>
<g id="CapacityI14"><use href="#A" x="613" y="612.9"/><text x="619.3" y="613.9">CapacityI14</text></g>
<g id="CapacityI15"><use href="#A" x="689.3" y="415.3"/><text x="695.7" y="416.3">CapacityI15</text></g>
<g id="CapacityI16"><use href="#A" x="689.3" y="430.5"/><text x="695.7" y="431.5">CapacityI16</text></g>
<g id="CapacityI17"><use href="#A" x="689.3" y="445.7"/><text x="695.7" y="446.7">CapacityI17</text></g>
<g id="CapacityI18"><use href="#A" x="689.3" y="460.9"/><text x="695.7" y="461.9">CapacityI18</text></g>
<g id="CapacityI19"><use href="#A" x="689.3" y="476.1"/><text x="695.7" y="477.1">CapacityI19</text></g>
<g id="CapacityI20"><use href="#A" x="689.3" y="491.3"/><text x="695.7" y="492.3">CapacityI20</text></g>
<g id="CapacityI21"><use href="#A" x="689.3" y="506.5"/><text x="695.7" y="507.5">CapacityI21</text></g>
<g id="CapacityI22"><use href="#A" x="689.3" y="521.7"/><text x="695.7" y="522.7">CapacityI22</text></g>
<g id="CapacityI23"><use href="#A" x="689.3" y="536.9"/><text x="695.7" y="537.9">CapacityI23</text></g>
<g id="CapacityI24"><use href="#A" x="689.3" y="552.1"/><text x="695.7" y="553.1">CapacityI24</text></g>
<g id="CapacityI25"><use href="#A" x="689.3" y="567.3"/><text x="695.7" y="568.3">CapacityI25</text></g>
<g id="CapacityI26"><use href="#A" x="689.3" y="582.5"/><text x="695.7" y="583.5">CapacityI26</text></g>
<g id="CapacityI27"><use href="#A" x="689.3" y="597.7"/><text x="695.7" y="598.7">CapacityI27</text></g>
<g id="CapacityC1"><use href="#A" x="765.7" y="415.3"/><text x="772" y="416.3">CapacityC1</text></g>
<g id="CapacityC2"><use href="#A" x="765.7" y="430.5"/><text x="772" y="431.5">CapacityC2</text></g>
<g id="CapacityC3"><use href="#A" x="765.7" y="445.7"/><text x="772" y="446.7">CapacityC3</text></g>
<g id="CapacityR1"><use href="#A" x="765.7" y="476.7"/><text x="772" y="477.7">CapacityR1</text></g>
<g id="CapacityR2"><use href="#A" x="765.7" y="492"/><text x="772" y="493">CapacityR2</text></g>
<g id="CapacityO1"><use href="#A" x="765.7" y="517"/><text x="772" y="518">CapacityO1</text></g>
<g id="CapacityO2"><use href="#A" x="765.7" y="532.2"/><text x="772" y="533.2">CapacityO2</text></g>
<g id="CapacityO3"><use href="#A" x="765.7" y="547.4"/><text x="772" y="548.4">CapacityO3</text></g>
<g id="CapacityO4"><use href="#A" x="765.7" y="562.6"/><text x="772" y="563.6">CapacityO4</text></g>
<g id="CapacityO5"><use href="#A" x="765.7" y="577.8"/><text x="772" y="578.8">CapacityO5</text></g>
<g id="CapacityO6"><use href="#A" x="765.7" y="593"/><text x="772" y="594">CapacityO6</text></g>
<g id="CapacityP0"><use href="#A" x="842" y="415.3"/><text x="848.3" y="416.3">CapacityP0</text></g>
<g id="CapacityP1"><use href="#A" x="842" y="430.5"/><text x="848.3" y="431.5">CapacityP1</text></g>
<g id="CapacityP2"><use href="#A" x="842" y="445.7"/><text x="848.3" y="446.7">CapacityP2</text></g>
<g id="CapacityP3"><use href="#A" x="842" y="460.9"/><text x="848.3" y="461.9">CapacityP3</text></g>
<g id="CapacityP4"><use href="#A" x="842" y="476.1"/><text x="848.3" y="477.1">CapacityP4</text></g>
<g id="CapacityP5"><use href="#A" x="842" y="491.3"/><text x="848.3" y="492.3">CapacityP5</text></g>
<g id="CapacityP6"><use href="#A" x="842" y="506.5"/><text x="848.3" y="507.5">CapacityP6</text></g>
<g id="CapacityP7"><use href="#A" x="842" y="521.7"/><text x="848.3" y="522.7">CapacityP7</text></g>
<g id="CapacityP8"><use href="#A" x="842" y="536.9"/><text x="848.3" y="537.9">CapacityP8</text></g>
<g id="CapacityP9"><use href="#A" x="842" y="552.1"/><text x="848.3" y="553.1">CapacityP9</text></g>
<g id="CapacityP10"><use href="#A" x="842" y="567.3"/><text x="848.3" y="568.3">CapacityP10</text></g>
<g id="CapacityP11"><use href="#A" x="842" y="582.5"/><text x="848.3" y="583.5">CapacityP11</text></g>
<g id="CapacityP12"><use href="#A" x="842" y="597.7"/><text x="848.3" y="598.7">CapacityP12</text></g>
<g id="CapacityD1"><use href="#A" x="918" y="415.3"/><text x="924.3" y="416.3">CapacityD1</text></g>
<g id="CapacityD2"><use href="#A" x="918" y="430.5"/><text x="924.3" y="431.5">CapacityD2</text></g>
<g id="CapacityD3"><use href="#A" x="918" y="445.7"/><text x="924.3" y="446.7">CapacityD3</text></g>
<g id="CapacityD4"><use href="#A" x="918" y="460.9"/><text x="924.3" y="461.9">CapacityD4</text></g>
<g id="CapacityD5"><use href="#A" x="918" y="476.1"/><text x="924.3" y="477.1">CapacityD5</text></g>
<g id="CapacityD6"><use href="#A" x="918" y="491.3"/><text x="924.3" y="492.3">CapacityD6</text></g>
<g id="CapacityD7"><use href="#A" x="918" y="506.5"/><text x="924.3" y="507.5">CapacityD7</text></g>
<g id="CapacityD8"><use href="#A" x="918" y="521.7"/><text x="924.3" y="522.7">CapacityD8</text></g>
<g id="CapacityD9"><use href="#A" x="918" y="536.9"/><text x="924.3" y="537.9">CapacityD9</text></g>
<g id="CapacityD10"><use href="#A" x="918" y="552.1"/><text x="924.3" y="553.1">CapacityD10</text></g>
<g id="CapacityD11"><use href="#A" x="918" y="567.3"/><text x="924.3" y="568.3">CapacityD11</text></g>
<g id="CapacityD12"><use href="#A" x="918" y="582.5"/><text x="924.3" y="583.5">CapacityD12</text></g>
<g id="CapacityD13"><use href="#A" x="918" y="597.7"/><text x="924.3" y="598.7">CapacityD13</text></g>
<g id="ClearTime1" class="g"><use href="#A" x="1010" y="415.3"/><text x="1016" y="416.3">ClearTime1</text></g>
<g id="ClearTime2" class="g"><use href="#A" x="1010" y="430.5"/><text x="1016" y="431.5">ClearTime2</text></g>
<g id="CoverTime1" class="g"><use href="#A" x="1010" y="461"/><text x="1016" y="462">CoverTime1</text></g>
<g id="CoverTime2" class="g"><use href="#A" x="1010" y="476.5"/><text x="1016" y="477.5">CoverTime2</text></g>
<g id="Line1S1Time" class="g"><use href="#A" x="1010" y="501.7"/><text x="1016" y="502.7">Line1S1Time</text></g>
<g id="Line1S2Time" class="g"><use href="#A" x="1010" y="516.9"/><text x="1016" y="517.9">Line1S2Time</text></g>
<g id="Line2S1Time" class="g"><use href="#A" x="1010" y="532.1"/><text x="1016" y="533.1">Line2S1Time</text></g>
<g id="Line2S2Time" class="g"><use href="#A" x="1010" y="547.3"/><text x="1016" y="548.3">Line2S2Time</text></g>
<g id="Line3S1Time" class="g"><use href="#A" x="1010" y="562.5"/><text x="1016" y="563.5">Line3S1Time</text></g>
<g id="Line3S2Time" class="g"><use href="#A" x="1010" y="577.7"/><text x="1016" y="578.7">Line3S2Time</text></g>
<g id="Line4S1Time" class="g"><use href="#A" x="1010" y="592.9"/><text x="1016" y="593.9">Line4S1Time</text></g>
<g id="Line4S2Time" class="g"><use href="#A" x="1010" y="608.1"/><text x="1016" y="609.1">Line4S2Time</text></g>
<g id="UncoverTime1" class="g"><use href="#A" x="1086" y="415.3"/><text x="1092" y="416.3">UncoverTime1</text></g>
<g id="UncoverTime2" class="g"><use href="#A" x="1086" y="430.5"/><text x="1092" y="431.5">UncoverTime2</text></g>
<g id="LoadTime"><use href="#A" x="1086" y="461"/><text x="1092" y="462">LoadTime</text></g>
<g id="UnloadTime"><use href="#A" x="1086" y="476.5"/><text x="1092" y="477.5">UnloadTime</text></g>
<g id="moldChangeTime"><use href="#A" x="1086" y="501.7"/><text x="1092" y="502.7">moldChangeTime</text></g>
<g id="ConveyorGap"><use href="#A" x="821.7" y="654.3"/><text x="827.7" y="655.3">ConveyorGap</text></g>
<g id="arrivalInterval"><use href="#A" x="821.7" y="669.3"/><text x="827.7" y="670.3">arrivalInterval</text></g>
<g id="globalRotateRate"><use href="#A" x="892.7" y="654.3"/><text x="899" y="655.3">globalRotateRate</text></g>
<g id="globalTransportRate"><use href="#A" x="892.7" y="669.3"/><text x="899" y="670.3">globalTransportRate</text></g>
<g id="transporterNum"><use href="#A" x="892.7" y="685"/><text x="899" y="686">transporterNum</text></g>
<g id="BridgeSpeed"><use href="#A" x="994" y="654.3"/><text x="1000.7" y="655.3">BridgeSpeed</text></g>
<g id="TrolleySpeed"><use href="#A" x="994" y="669.3"/><text x="1000.7" y="670.3">TrolleySpeed</text></g>
<g id="HoistSpeed"><use href="#A" x="994" y="685"/><text x="1000.7" y="686">HoistSpeed</text></g>
</svg>
